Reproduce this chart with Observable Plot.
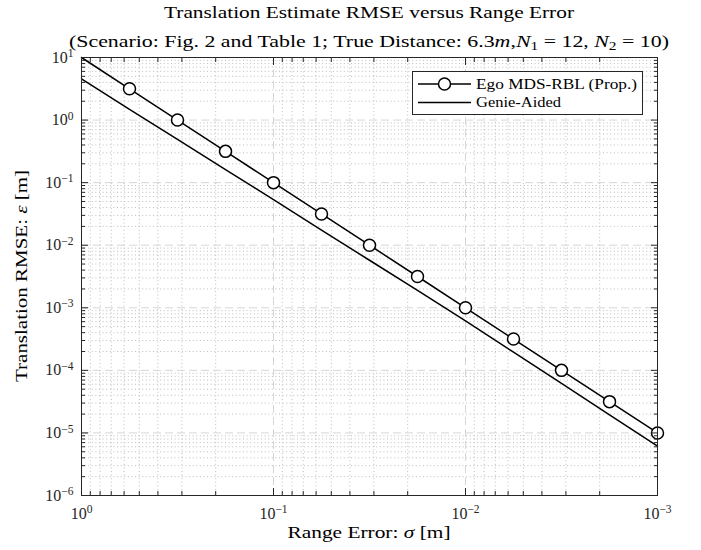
<!DOCTYPE html>
<html><head><meta charset="utf-8">
<script src="https://cdn.jsdelivr.net/npm/d3@7"></script>
<script src="https://cdn.jsdelivr.net/npm/@observablehq/plot@0.6"></script>
<style>
body{margin:0;background:#fff;}
#wrap{position:relative;width:701px;height:550px;}
#overlay{position:absolute;left:0;top:0;pointer-events:none;}
</style></head><body><div id="wrap"></div>
<script>
// ---- data ----
const sigma = [1, 0.5623, 0.3162, 0.1778, 0.1, 0.05623, 0.03162, 0.01778, 0.01, 0.005623, 0.003162, 0.001778, 0.001];
const egoRMSE = [10, 3.162, 1, 0.3162, 0.1, 0.03162, 0.01, 0.003162, 0.001, 3.162e-4, 1e-4, 3.162e-5, 1e-5];
const egoMarker = [false, true, true, true, true, true, true, true, true, true, true, true, true];
const genieRMSE = [4.57, 1.48, 0.49, 0.162, 0.0537, 0.0174, 0.00575, 0.0019, 6.17e-4, 1.95e-4, 6.17e-5, 1.95e-5, 6.17e-6];
const seriesNames = ["Ego MDS-RBL (Prop.)", "Genie-Aided"];
const xMajor = [1, 0.1, 0.01, 0.001];
const yMajor = [1e-6, 1e-5, 1e-4, 1e-3, 1e-2, 1e-1, 1, 10];
const titleText = "Translation Estimate RMSE versus Range Error";
const xLabel = "Range Error: ";
const yLabel = "Translation RMSE: ";

// minor tick positions (2..9 within each decade)
const minorOf = (majors) => {
  const s = [...majors].sort((a, b) => a - b);
  return s.slice(0, -1).flatMap(lo => [2,3,4,5,6,7,8,9].map(k => k * lo));
};
const xMinor = minorOf(xMajor);
const yMinor = minorOf(yMajor);

const ego = sigma.map((s, i) => ({sigma: s, rmse: egoRMSE[i], marker: egoMarker[i]}));
const genie = sigma.map((s, i) => ({sigma: s, rmse: genieRMSE[i]}));

const AX = "#262626";
const FONT = "Liberation Serif";
const blank = () => "";
const pow10 = d => { const e = Math.round(Math.log10(d)); return "10^" + (e < 0 ? "−" : "") + Math.abs(e); };

const chart = Plot.plot({
  width: 701, height: 550,
  marginLeft: 81, marginRight: 44, marginTop: 57, marginBottom: 55,
  style: {fontFamily: FONT, fontSize: "16px", background: "#fff", color: AX},
  x: {type: "log", domain: [1, 0.001]},
  y: {type: "log", domain: [1e-6, 10]},
  marks: [
    Plot.gridX(xMinor, {stroke: "#bdbdbd", strokeOpacity: 1, strokeDasharray: "1,2.6"}),
    Plot.gridY(yMinor, {stroke: "#bdbdbd", strokeOpacity: 1, strokeDasharray: "1,2.6"}),
    Plot.gridX(xMajor, {stroke: "#d6d6d6", strokeOpacity: 1, strokeDasharray: "8,4"}),
    Plot.gridY(yMajor, {stroke: "#d6d6d6", strokeOpacity: 1, strokeDasharray: "8,4"}),
    Plot.line(genie, {x: "sigma", y: "rmse", stroke: "black", strokeWidth: 1.5}),
    Plot.line(ego, {x: "sigma", y: "rmse", stroke: "black", strokeWidth: 1.5}),
    Plot.dot(ego.filter(d => d.marker), {x: "sigma", y: "rmse", r: 6, fill: "white", stroke: "black", strokeWidth: 1.5}),
    Plot.frame({stroke: AX, strokeWidth: 1}),
    // inward ticks on all four sides
    Plot.axisX(xMajor, {anchor: "bottom", tickSize: 7, dy: -7, tickFormat: blank, label: null, stroke: AX}),
    Plot.axisX(xMinor, {anchor: "bottom", tickSize: 4, dy: -4, tickFormat: blank, label: null, stroke: AX}),
    Plot.axisX(xMajor, {anchor: "top", tickSize: 7, dy: 7, tickFormat: blank, label: null, stroke: AX}),
    Plot.axisX(xMinor, {anchor: "top", tickSize: 4, dy: 4, tickFormat: blank, label: null, stroke: AX}),
    Plot.axisY(yMajor, {anchor: "left", tickSize: 7, dx: 7, tickFormat: blank, label: null, stroke: AX}),
    Plot.axisY(yMinor, {anchor: "left", tickSize: 4, dx: 4, tickFormat: blank, label: null, stroke: AX}),
    Plot.axisY(yMajor, {anchor: "right", tickSize: 7, dx: -7, tickFormat: blank, label: null, stroke: AX}),
    Plot.axisY(yMinor, {anchor: "right", tickSize: 4, dx: -4, tickFormat: blank, label: null, stroke: AX}),
    // tick labels
    Plot.axisX(xMajor, {anchor: "bottom", tickSize: 0, tickPadding: 12, tickFormat: pow10, label: null, fill: AX}),
    Plot.axisY(yMajor, {anchor: "left", tickSize: 0, tickPadding: 8, tickFormat: pow10, label: null, fill: AX})
  ]
});

// render superscripts in tick labels
const NS = "http://www.w3.org/2000/svg";
chart.querySelectorAll("text").forEach(t => {
  const s = t.textContent;
  if (/^10\^/.test(s)) {
    const exp = s.slice(3);
    t.textContent = "";
    const a = document.createElementNS(NS, "tspan");
    a.textContent = "10";
    const b = document.createElementNS(NS, "tspan");
    b.textContent = exp;
    b.setAttribute("dy", "-5.5");
    b.setAttribute("font-size", "11.5");
    t.appendChild(a); t.appendChild(b);
  }
});

const wrap = document.getElementById("wrap");
wrap.appendChild(chart);

// overlay: titles, axis labels, legend
const ov = d3.select(wrap).append("svg").attr("id", "overlay").attr("width", 701).attr("height", 550)
  .attr("font-family", FONT).attr("fill", "#000");

ov.append("text").attr("x", 369).attr("y", 18).attr("text-anchor", "middle").attr("font-size", 17)
  .attr("textLength", 410).attr("lengthAdjust", "spacingAndGlyphs").text(titleText);

const sub = ov.append("text").attr("x", 369).attr("y", 47).attr("text-anchor", "middle").attr("font-size", 17)
  .attr("textLength", 600).attr("lengthAdjust", "spacingAndGlyphs");
sub.append("tspan").text("(Scenario: Fig. 2 and Table 1; True Distance: 6.3");
sub.append("tspan").attr("font-style", "italic").text("m");
sub.append("tspan").text(",");
sub.append("tspan").attr("font-style", "italic").text("N");
sub.append("tspan").attr("font-size", 12).attr("dy", 3).text("1");
sub.append("tspan").attr("dy", -3).text(" = 12, ");
sub.append("tspan").attr("font-style", "italic").text("N");
sub.append("tspan").attr("font-size", 12).attr("dy", 3).text("2");
sub.append("tspan").attr("dy", -3).text(" = 10)");

const xl = ov.append("text").attr("x", 369).attr("y", 538).attr("text-anchor", "middle").attr("font-size", 17)
  .attr("textLength", 163).attr("lengthAdjust", "spacingAndGlyphs");
xl.append("tspan").text(xLabel);
xl.append("tspan").attr("font-style", "italic").text("σ");
xl.append("tspan").text(" [m]");

const yl = ov.append("text").attr("transform", "translate(27,276) rotate(-90)").attr("text-anchor", "middle").attr("font-size", 17)
  .attr("textLength", 212).attr("lengthAdjust", "spacingAndGlyphs");
yl.append("tspan").text(yLabel);
yl.append("tspan").attr("font-style", "italic").text("ε");
yl.append("tspan").text(" [m]");

// legend
const lg = ov.append("g");
lg.append("rect").attr("x", 412.5).attr("y", 71.5).attr("width", 230).attr("height", 43)
  .attr("fill", "#fff").attr("stroke", AX).attr("stroke-width", 1);
const rows = [{y: 84, tb: 88.5, w: 161, marker: true}, {y: 102.5, tb: 107, w: 85, marker: false}];
rows.forEach((r, i) => {
  lg.append("line").attr("x1", 418).attr("x2", 471).attr("y1", r.y).attr("y2", r.y).attr("stroke", "#000").attr("stroke-width", 1.5);
  if (r.marker) lg.append("circle").attr("cx", 444.5).attr("cy", r.y).attr("r", 6).attr("fill", "#fff").attr("stroke", "#000").attr("stroke-width", 1.5);
  lg.append("text").attr("x", 476).attr("y", r.tb).attr("font-size", 15.5)
    .attr("textLength", r.w).attr("lengthAdjust", "spacingAndGlyphs").text(seriesNames[i]);
});
</script></body></html>
